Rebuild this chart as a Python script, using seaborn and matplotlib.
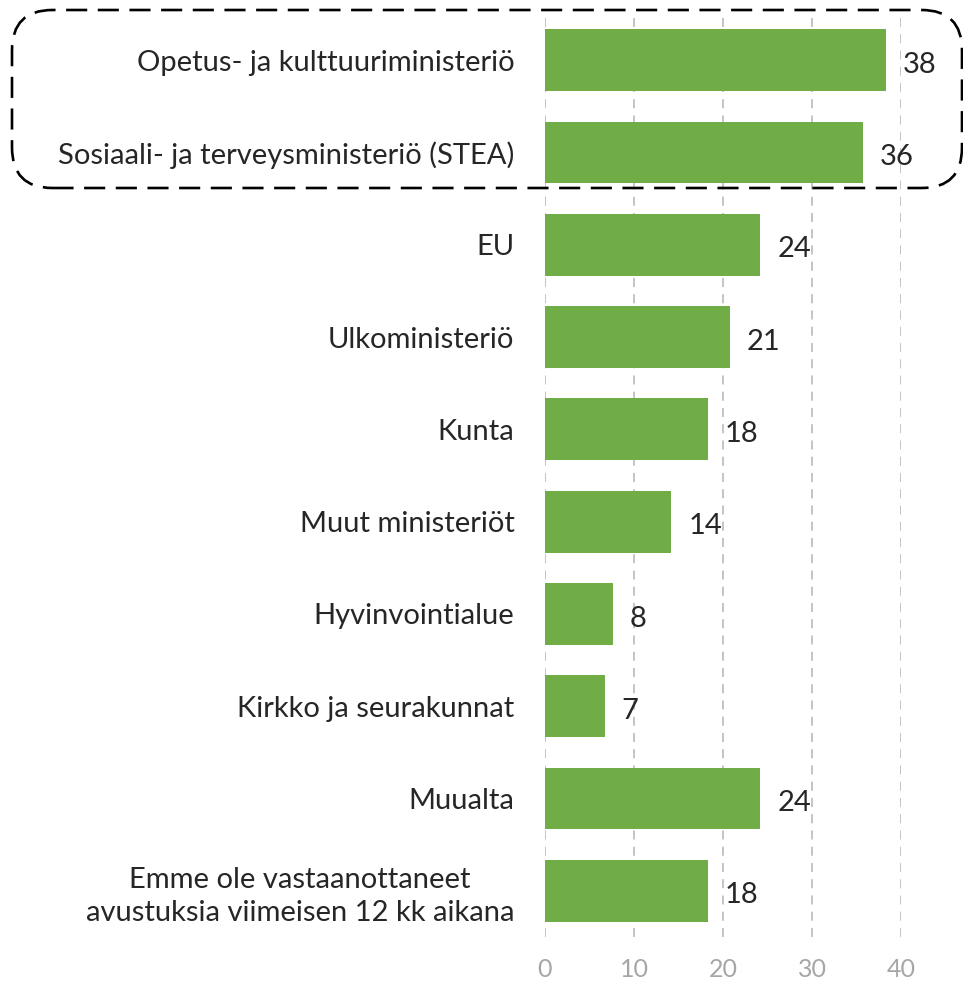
import matplotlib
matplotlib.use("Agg")
import matplotlib.pyplot as plt
import seaborn as sns
import pandas as pd
from matplotlib.patches import FancyBboxPatch

categories = [
    "Opetus- ja kulttuuriministeriö",
    "Sosiaali- ja terveysministeriö (STEA)",
    "EU",
    "Ulkoministeriö",
    "Kunta",
    "Muut ministeriöt",
    "Hyvinvointialue",
    "Kirkko ja seurakunnat",
    "Muualta",
    "Emme ole vastaanottaneet\navustuksia viimeisen 12 kk aikana",
]
values = [38.3, 35.7, 24.2, 20.8, 18.3, 14.2, 7.6, 6.7, 24.2, 18.3]
x_ticks = [0, 10, 20, 30, 40]

sns.set_theme(style="white")
plt.rcParams["font.family"] = ["Lato", "DejaVu Sans"]

df = pd.DataFrame({"cat": categories, "val": values})

W, H = 963, 985
fig = plt.figure(figsize=(W / 100, H / 100), dpi=100)
ax = fig.add_axes([545 / W, 1 - 937 / H, (901 - 545) / W, (937 - 14) / H])

sns.barplot(data=df, x="val", y="cat", color="#70AD47", saturation=1,
            width=0.67, ax=ax, zorder=3, edgecolor="none")

ax.set_xlim(0, 40)
ax.set_ylim(len(categories) - 0.5, -0.5)
ax.set_xticks(x_ticks)
ax.set_xticklabels([str(t) for t in x_ticks])
ax.set_xlabel("")
ax.set_ylabel("")
for s in ax.spines.values():
    s.set_visible(False)
for t in x_ticks:
    ax.axvline(t, color="#BFBFBF", lw=1.3, ls=(0, (5, 4)), zorder=1)
ax.tick_params(axis="x", length=0, pad=15, labelsize=18, labelcolor="#A6A6A6")
ax.tick_params(axis="y", length=0, pad=22, labelsize=21, labelcolor="#262626")
for lbl in ax.get_yticklabels():
    lbl.set_multialignment("center")
    lbl.set_linespacing(1.3)

for i, v in enumerate(values):
    ax.text(v + 1.9, i + 0.05, f"{v:.0f}", va="center", ha="left",
            fontsize=21, color="#262626", clip_on=False)

box = FancyBboxPatch((12 / W, 1 - 188 / H), (962 - 12) / W, (188 - 10) / H,
                     boxstyle="round,pad=0,rounding_size=0.042",
                     transform=fig.transFigure, fill=False,
                     edgecolor="#000000", lw=1.9, ls=(0, (8, 4)),
                     mutation_aspect=W / H)
fig.patches.append(box)

fig.savefig("out.png", dpi=100)
